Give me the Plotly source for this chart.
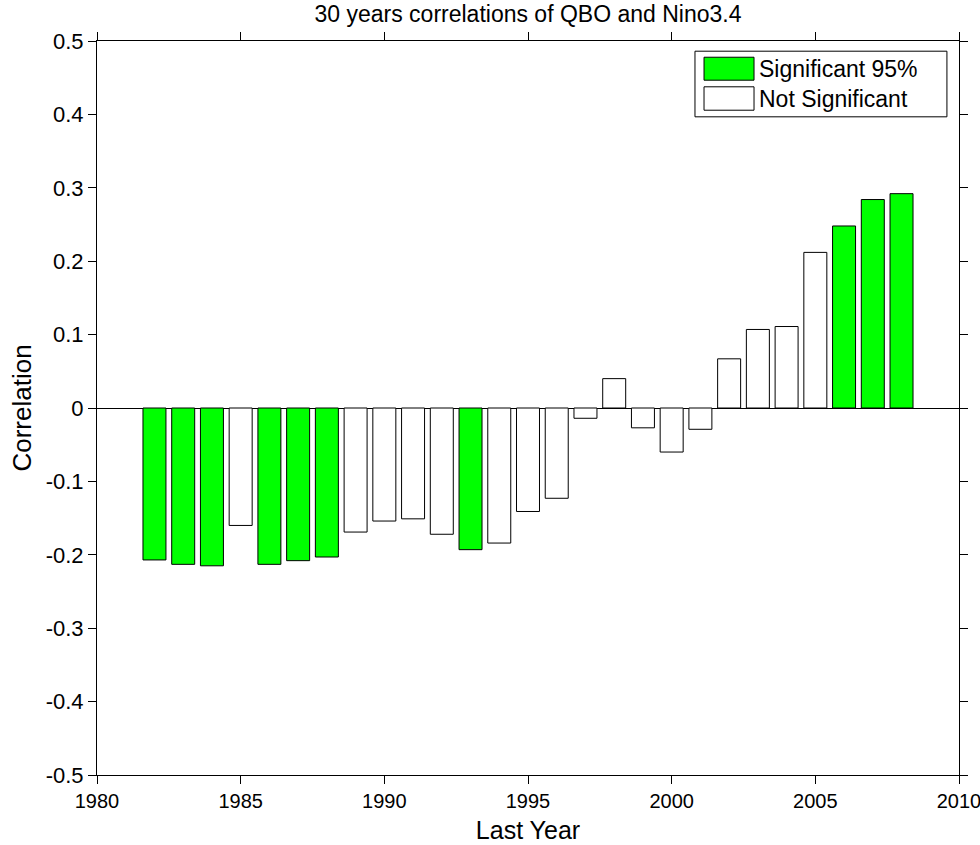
import plotly.graph_objects as go

# ---- data ----
years = list(range(1982, 2009))
correlation = [-0.207, -0.213, -0.215, -0.160, -0.213, -0.208, -0.203, -0.169,
               -0.154, -0.151, -0.172, -0.193, -0.184, -0.141, -0.123, -0.014,
               0.040, -0.027, -0.060, -0.029, 0.067, 0.107, 0.111, 0.212,
               0.248, 0.284, 0.292]
significant = [1, 1, 1, 0, 1, 1, 1, 0, 0, 0, 0, 1, 0, 0, 0, 0, 0, 0, 0, 0,
               0, 0, 0, 0, 1, 1, 1]
x_tickvals = [1980, 1985, 1990, 1995, 2000, 2005, 2010]
y_tickvals = [0.5, 0.4, 0.3, 0.2, 0.1, 0, -0.1, -0.2, -0.3, -0.4, -0.5]
y_ticktext = ["0.5", "0.4", "0.3", "0.2", "0.1", "0", "-0.1", "-0.2", "-0.3", "-0.4", "-0.5"]
legend_labels = ["Significant 95%", "Not Significant"]

GREEN = "#00ff00"
WHITE = "#ffffff"
FONT = "Liberation Sans, Arial, Helvetica, sans-serif"

colors = [GREEN if s else WHITE for s in significant]

fig = go.Figure()
fig.add_trace(go.Bar(
    x=years, y=correlation, width=0.8,
    marker=dict(color=colors, line=dict(color="black", width=1)),
    showlegend=False, hoverinfo="x+y",
))

# custom legend (box + swatches + labels, paper coordinates)
fig.add_shape(type="rect", xref="paper", yref="paper",
              x0=0.6937, x1=0.986, y0=0.8967, y1=0.9861,
              line=dict(color="black", width=1), fillcolor="white", layer="above")
fig.add_shape(type="rect", xref="paper", yref="paper",
              x0=0.7042, x1=0.7622, y0=0.9466, y1=0.9779,
              line=dict(color="black", width=1), fillcolor=GREEN, layer="above")
fig.add_shape(type="rect", xref="paper", yref="paper",
              x0=0.7042, x1=0.7622, y0=0.9057, y1=0.9376,
              line=dict(color="black", width=1), fillcolor=WHITE, layer="above")
for lbl, yc in zip(legend_labels, [0.9625, 0.9216]):
    fig.add_annotation(text=lbl, xref="paper", yref="paper", x=0.766, y=yc,
                       xanchor="left", yanchor="middle", showarrow=False,
                       font=dict(family=FONT, size=23, color="black"))

fig.update_layout(
    width=980, height=845,
    margin=dict(l=97, r=21, t=41, b=70, autoexpand=False),
    paper_bgcolor="white", plot_bgcolor="white",
    font=dict(family=FONT, size=22, color="black"),
    title=dict(text="30 years correlations of QBO and Nino3.4",
               x=0.5, xref="paper", y=1 - 14 / 845, yref="container",
               xanchor="center", yanchor="middle",
               font=dict(family=FONT, size=23, color="black")),
    xaxis=dict(range=[1980, 2010], tickvals=x_tickvals,
               ticks="outside", ticklen=8, tickcolor="black",
               ticklabeloverflow="allow", automargin=False,
               tickfont=dict(family=FONT, size=20),
               showline=True, linecolor="black", linewidth=1, mirror="ticks",
               showgrid=False, zeroline=False,
               title=dict(text="Last Year", standoff=10,
                          font=dict(family=FONT, size=25))),
    yaxis=dict(range=[-0.5, 0.5], tickvals=y_tickvals, ticktext=y_ticktext,
               ticks="outside", ticklen=8, tickcolor="black", automargin=False,
               tickfont=dict(family=FONT, size=22),
               showline=True, linecolor="black", linewidth=1, mirror="ticks",
               showgrid=False, zeroline=True, zerolinecolor="black", zerolinewidth=1,
               title=dict(text="Correlation", standoff=6,
                          font=dict(family=FONT, size=26))),
    bargap=0.2,
)

# remove the browser's default 8px body margin so the figure fills the window
fig.write_html("out.html",
               config={"displayModeBar": False},
               post_script="document.body.style.margin='0';document.body.style.overflow='hidden';")
